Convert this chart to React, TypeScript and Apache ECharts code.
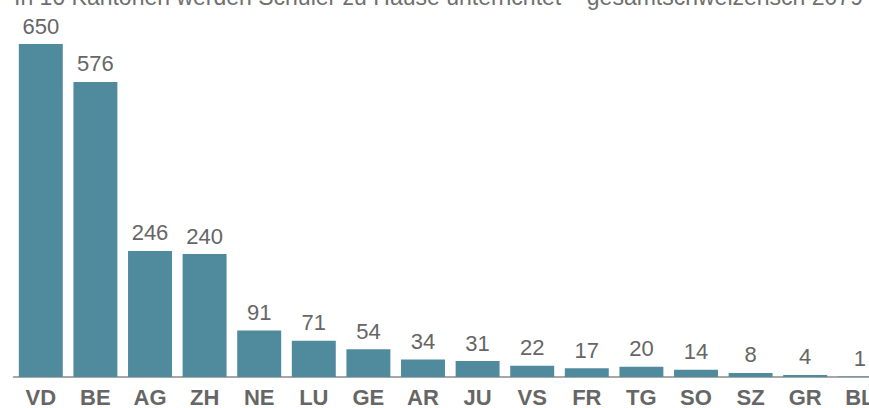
import React, { useEffect, useRef } from "react";
import * as echarts from "echarts";

const titleText = "In 16 Kantonen werden Schüler zu Hause unterrichtet – gesamtschweizerisch 2079";
const cantons = ["VD", "BE", "AG", "ZH", "NE", "LU", "GE", "AR", "JU", "VS", "FR", "TG", "SO", "SZ", "GR", "BL"];
const pupils = [650, 576, 246, 240, 91, 71, 54, 34, 31, 22, 17, 20, 14, 8, 4, 1];

const FONT = "'Liberation Sans', Arial, Helvetica, sans-serif";

export default function App() {
  const ref = useRef<HTMLDivElement>(null);
  useEffect(() => {
    if (!ref.current) return;
    const chart = echarts.init(ref.current, undefined, { renderer: "svg" });
    chart.setOption({
      animation: false,
      backgroundColor: "#ffffff",
      graphic: [
        {
          type: "text",
          x: 14,
          y: 8,
          style: {
            text: titleText,
            fill: "#6f6f6f",
            font: `23px ${FONT}`,
            textAlign: "left",
            textVerticalAlign: "bottom",
            verticalAlign: "bottom",
          },
        },
      ],
      grid: { left: 13.5, top: 44, width: 873.6, bottom: 30, containLabel: false },
      xAxis: {
        type: "category",
        data: cantons,
        axisLine: { show: true, lineStyle: { color: "#8a8a8a", width: 1.5 } },
        axisTick: { show: false },
        axisLabel: {
          interval: 0,
          color: "#666666",
          fontFamily: FONT,
          fontSize: 22,
          fontWeight: "bold",
          margin: 9,
        },
      },
      yAxis: {
        type: "value",
        min: 0,
        max: 650,
        show: false,
        splitLine: { show: false },
      },
      series: [
        {
          type: "bar",
          data: pupils,
          barCategoryGap: "19.5%",
          itemStyle: { color: "#4f8b9c" },
          label: {
            show: true,
            position: "top",
            distance: 7,
            color: "#666666",
            fontFamily: FONT,
            fontSize: 22,
          },
        },
      ],
    });
    return () => chart.dispose();
  }, []);
  return (
    <div style={{ position: "fixed", left: 0, top: 0, width: 869, height: 408, overflow: "hidden", background: "#fff" }}>
      <div ref={ref} style={{ width: 900, height: 408 }} />
    </div>
  );
}
